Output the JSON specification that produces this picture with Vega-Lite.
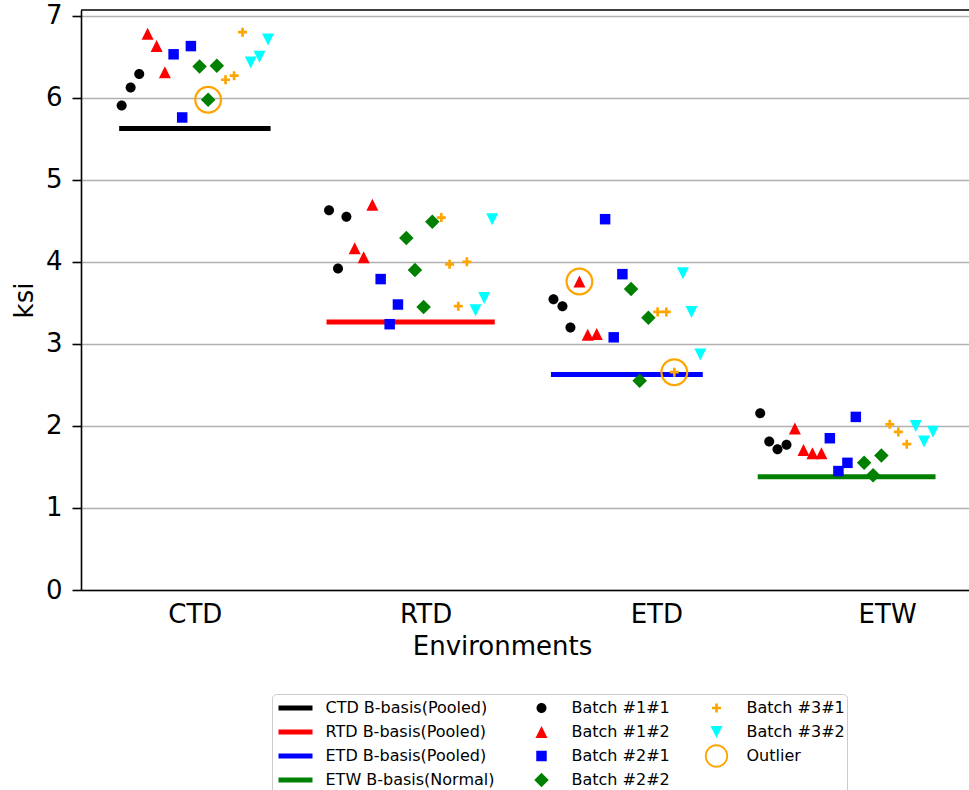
{
  "$schema": "https://vega.github.io/schema/vega-lite/v6.json",
  "width": 888,
  "height": 580,
  "autosize": "none",
  "padding": {"left": 81, "top": 10, "right": 0, "bottom": 200},
  "background": "white",
  "config": {
    "font": "DejaVu Sans",
    "view": {"stroke": null},
    "axis": {
      "labelFont": "DejaVu Sans", "titleFont": "DejaVu Sans",
      "labelColor": "black", "titleColor": "black",
      "labelFontSize": 26, "titleFontSize": 26, "titleFontWeight": "normal",
      "domainColor": "black", "domainWidth": 1.6,
      "tickColor": "black", "tickWidth": 1.6
    }
  },
  "datasets": {
    "pts": [
      {"env": "CTD", "series": "Batch #1#1", "x": -0.3173, "ksi": 5.906},
      {"env": "CTD", "series": "Batch #1#1", "x": -0.2784, "ksi": 6.126},
      {"env": "CTD", "series": "Batch #1#1", "x": -0.2411, "ksi": 6.289},
      {"env": "CTD", "series": "Batch #1#2", "x": -0.2048, "ksi": 6.78},
      {"env": "CTD", "series": "Batch #1#2", "x": -0.1658, "ksi": 6.63},
      {"env": "CTD", "series": "Batch #1#2", "x": -0.1299, "ksi": 6.31},
      {"env": "CTD", "series": "Batch #2#1", "x": -0.0922, "ksi": 6.53},
      {"env": "CTD", "series": "Batch #2#1", "x": -0.055, "ksi": 5.76},
      {"env": "CTD", "series": "Batch #2#1", "x": -0.0173, "ksi": 6.63},
      {"env": "CTD", "series": "Batch #2#2", "x": 0.0203, "ksi": 6.38},
      {"env": "CTD", "series": "Batch #2#2", "x": 0.0576, "ksi": 5.976},
      {"env": "CTD", "series": "Batch #2#2", "x": 0.0952, "ksi": 6.39},
      {"env": "CTD", "series": "Batch #3#1", "x": 0.1329, "ksi": 6.22},
      {"env": "CTD", "series": "Batch #3#1", "x": 0.1701, "ksi": 6.27},
      {"env": "CTD", "series": "Batch #3#1", "x": 0.2065, "ksi": 6.8},
      {"env": "CTD", "series": "Batch #3#2", "x": 0.2424, "ksi": 6.43},
      {"env": "CTD", "series": "Batch #3#2", "x": 0.2801, "ksi": 6.5},
      {"env": "CTD", "series": "Batch #3#2", "x": 0.3173, "ksi": 6.71},
      {"env": "RTD", "series": "Batch #1#1", "x": 0.5814, "ksi": 4.63},
      {"env": "RTD", "series": "Batch #1#1", "x": 0.6203, "ksi": 3.92},
      {"env": "RTD", "series": "Batch #1#1", "x": 0.6567, "ksi": 4.55},
      {"env": "RTD", "series": "Batch #1#2", "x": 0.6926, "ksi": 4.167},
      {"env": "RTD", "series": "Batch #1#2", "x": 0.7316, "ksi": 4.057},
      {"env": "RTD", "series": "Batch #1#2", "x": 0.7693, "ksi": 4.695},
      {"env": "RTD", "series": "Batch #2#1", "x": 0.8052, "ksi": 3.79},
      {"env": "RTD", "series": "Batch #2#1", "x": 0.8442, "ksi": 3.24},
      {"env": "RTD", "series": "Batch #2#1", "x": 0.8801, "ksi": 3.48},
      {"env": "RTD", "series": "Batch #2#2", "x": 0.9165, "ksi": 4.29},
      {"env": "RTD", "series": "Batch #2#2", "x": 0.9537, "ksi": 3.9},
      {"env": "RTD", "series": "Batch #2#2", "x": 0.9913, "ksi": 3.45},
      {"env": "RTD", "series": "Batch #2#2", "x": 1.029, "ksi": 4.49},
      {"env": "RTD", "series": "Batch #3#1", "x": 1.068, "ksi": 4.54},
      {"env": "RTD", "series": "Batch #3#1", "x": 1.1039, "ksi": 3.97},
      {"env": "RTD", "series": "Batch #3#1", "x": 1.1416, "ksi": 3.46},
      {"env": "RTD", "series": "Batch #3#1", "x": 1.1788, "ksi": 4.0},
      {"env": "RTD", "series": "Batch #3#2", "x": 1.2165, "ksi": 3.41},
      {"env": "RTD", "series": "Batch #3#2", "x": 1.2541, "ksi": 3.56},
      {"env": "RTD", "series": "Batch #3#2", "x": 1.2887, "ksi": 4.52},
      {"env": "ETD", "series": "Batch #1#1", "x": 1.5541, "ksi": 3.545},
      {"env": "ETD", "series": "Batch #1#1", "x": 1.5931, "ksi": 3.46},
      {"env": "ETD", "series": "Batch #1#1", "x": 1.6277, "ksi": 3.2},
      {"env": "ETD", "series": "Batch #1#2", "x": 1.6667, "ksi": 3.76},
      {"env": "ETD", "series": "Batch #1#2", "x": 1.7026, "ksi": 3.11},
      {"env": "ETD", "series": "Batch #1#2", "x": 1.7416, "ksi": 3.12},
      {"env": "ETD", "series": "Batch #2#1", "x": 1.7779, "ksi": 4.52},
      {"env": "ETD", "series": "Batch #2#1", "x": 1.8152, "ksi": 3.08},
      {"env": "ETD", "series": "Batch #2#1", "x": 1.8528, "ksi": 3.85},
      {"env": "ETD", "series": "Batch #2#2", "x": 1.8905, "ksi": 3.67},
      {"env": "ETD", "series": "Batch #2#2", "x": 1.9277, "ksi": 2.55},
      {"env": "ETD", "series": "Batch #2#2", "x": 1.9654, "ksi": 3.32},
      {"env": "ETD", "series": "Batch #3#1", "x": 2.0056, "ksi": 3.39},
      {"env": "ETD", "series": "Batch #3#1", "x": 2.0433, "ksi": 3.39},
      {"env": "ETD", "series": "Batch #3#1", "x": 2.0779, "ksi": 2.655},
      {"env": "ETD", "series": "Batch #3#2", "x": 2.1152, "ksi": 3.86},
      {"env": "ETD", "series": "Batch #3#2", "x": 2.1524, "ksi": 3.39},
      {"env": "ETD", "series": "Batch #3#2", "x": 2.1905, "ksi": 2.87},
      {"env": "ETW", "series": "Batch #1#1", "x": 2.4502, "ksi": 2.155},
      {"env": "ETW", "series": "Batch #1#1", "x": 2.4892, "ksi": 1.81},
      {"env": "ETW", "series": "Batch #1#1", "x": 2.5251, "ksi": 1.716},
      {"env": "ETW", "series": "Batch #1#1", "x": 2.5641, "ksi": 1.77},
      {"env": "ETW", "series": "Batch #1#2", "x": 2.6004, "ksi": 1.97},
      {"env": "ETW", "series": "Batch #1#2", "x": 2.6377, "ksi": 1.707},
      {"env": "ETW", "series": "Batch #1#2", "x": 2.6766, "ksi": 1.667},
      {"env": "ETW", "series": "Batch #1#2", "x": 2.7156, "ksi": 1.667},
      {"env": "ETW", "series": "Batch #2#1", "x": 2.7519, "ksi": 1.85},
      {"env": "ETW", "series": "Batch #2#1", "x": 2.7892, "ksi": 1.45},
      {"env": "ETW", "series": "Batch #2#1", "x": 2.8281, "ksi": 1.55},
      {"env": "ETW", "series": "Batch #2#1", "x": 2.8645, "ksi": 2.11},
      {"env": "ETW", "series": "Batch #2#2", "x": 2.9004, "ksi": 1.55},
      {"env": "ETW", "series": "Batch #2#2", "x": 2.9394, "ksi": 1.4},
      {"env": "ETW", "series": "Batch #2#2", "x": 2.9753, "ksi": 1.64},
      {"env": "ETW", "series": "Batch #3#1", "x": 3.0117, "ksi": 2.02},
      {"env": "ETW", "series": "Batch #3#1", "x": 3.0489, "ksi": 1.927},
      {"env": "ETW", "series": "Batch #3#1", "x": 3.0853, "ksi": 1.777},
      {"env": "ETW", "series": "Batch #3#2", "x": 3.1242, "ksi": 2.0},
      {"env": "ETW", "series": "Batch #3#2", "x": 3.1602, "ksi": 1.81},
      {"env": "ETW", "series": "Batch #3#2", "x": 3.1991, "ksi": 1.93}
    ],
    "basis": [
      {"env": "CTD", "series": "CTD B-basis(Pooled)", "x": -0.3173, "x2": 0.3173, "ksi": 5.626},
      {"env": "RTD", "series": "RTD B-basis(Pooled)", "x": 0.5814, "x2": 1.2887, "ksi": 3.268},
      {"env": "ETD", "series": "ETD B-basis(Pooled)", "x": 1.5541, "x2": 2.1905, "ksi": 2.626},
      {"env": "ETW", "series": "ETW B-basis(Normal)", "x": 2.4502, "x2": 3.1991, "ksi": 1.382}
    ],
    "outliers": [
      {"env": "CTD", "series": "Outlier", "x": 0.0576, "ksi": 5.976},
      {"env": "ETD", "series": "Outlier", "x": 1.6667, "ksi": 3.76},
      {"env": "ETD", "series": "Outlier", "x": 2.0779, "ksi": 2.655}
    ]
  },
  "layer": [
    {
      "data": {"name": "basis"},
      "mark": {"type": "rule", "strokeWidth": 5, "strokeCap": "square"},
      "encoding": {
        "x": {
          "field": "x", "type": "quantitative",
          "scale": {"domain": [-0.4935, 3.355], "nice": false, "zero": false},
          "axis": {
            "title": "Environments", "values": [0, 1, 2, 3],
            "labelExpr": "['CTD','RTD','ETD','ETW'][datum.value]",
            "grid": false, "ticks": false, "tickSize": 0,
            "labelPadding": 11, "titlePadding": 6, "titleX": 421,
            "labelFlush": false, "labelOverlap": false
          }
        },
        "x2": {"field": "x2"},
        "y": {
          "field": "ksi", "type": "quantitative",
          "scale": {"domain": [0, 7.07], "nice": false, "zero": true},
          "axis": {
            "title": "ksi", "values": [0, 1, 2, 3, 4, 5, 6, 7], "format": "d",
            "grid": true, "gridColor": "#b0b0b0", "gridWidth": 1.6,
            "tickSize": 9, "labelPadding": 10, "titlePadding": 8,
            "labelFlush": false, "labelOverlap": false
          }
        },
        "color": {
          "field": "series", "type": "nominal",
          "scale": {
            "domain": ["CTD B-basis(Pooled)", "RTD B-basis(Pooled)", "ETD B-basis(Pooled)", "ETW B-basis(Normal)", "Batch #1#1", "Batch #1#2", "Batch #2#1", "Batch #2#2", "Batch #3#1", "Batch #3#2", "Outlier"],
            "range": ["#000000", "#FF0000", "#0000FF", "#008000", "#000000", "#FF0000", "#0000FF", "#008000", "#FFA500", "#00FFFF", "#FFA500"]
          },
          "legend": {
            "title": null, "orient": "none", "legendX": 191, "legendY": 684,
            "columns": 3, "direction": "vertical", "gridAlign": "each",
            "symbolSize": 1444, "symbolStrokeWidth": 0, "symbolOffset": 2.5,
            "labelFont": "DejaVu Sans", "labelFontSize": 16, "labelColor": "black",
            "labelLimit": 400, "labelOffset": 11,
            "columnPadding": 25, "rowPadding": 0, "clipHeight": 24,
            "padding": 2, "strokeColor": "#cccccc", "fillColor": "white", "cornerRadius": 4,
            "encode": {
              "symbols": {
                "update": {
                  "shape": {"signal": "scale('shape', datum.value)"},
                  "fill": {"signal": "scale('color', datum.value)"},
                  "stroke": {"value": "transparent"},
                  "opacity": {"value": 1},
                  "size": {"signal": "datum.value === 'Outlier' ? 1000 : 1444"}
                }
              }
            }
          }
        }
      }
    },
    {
      "data": {"name": "pts"},
      "mark": {"type": "point", "filled": true, "size": 1444, "opacity": 1, "strokeWidth": 0},
      "encoding": {
        "x": {"field": "x", "type": "quantitative"},
        "y": {"field": "ksi", "type": "quantitative"},
        "color": {"field": "series", "type": "nominal"},
        "shape": {
          "field": "series", "type": "nominal", "legend": null,
          "scale": {
            "domain": ["CTD B-basis(Pooled)", "RTD B-basis(Pooled)", "ETD B-basis(Pooled)", "ETW B-basis(Normal)", "Batch #1#1", "Batch #1#2", "Batch #2#1", "Batch #2#2", "Batch #3#1", "Batch #3#2", "Outlier"],
            "range": [
              "M-0.895,-0.13H0.895V0.13H-0.895Z",
              "M-0.895,-0.13H0.895V0.13H-0.895Z",
              "M-0.895,-0.13H0.895V0.13H-0.895Z",
              "M-0.895,-0.13H0.895V0.13H-0.895Z",
              "M-0.263,0A0.263,0.263,0,1,1,0.263,0A0.263,0.263,0,1,1,-0.263,0Z",
              "M0,-0.316L0.316,0.316H-0.316Z",
              "M-0.276,-0.276H0.276V0.276H-0.276Z",
              "M-0.382,0L0,-0.382L0.382,0L0,0.382Z",
              "M-0.237,-0.071H-0.071V-0.237H0.071V-0.071H0.237V0.071H0.071V0.237H-0.071V0.071H-0.237Z",
              "M0,0.316L0.316,-0.316H-0.316Z",
              "M-0.737,0A0.737,0.737,0,1,1,0.737,0A0.737,0.737,0,1,1,-0.737,0Z M-0.62,0A0.62,0.62,0,1,0,0.62,0A0.62,0.62,0,1,0,-0.62,0Z"
            ]
          }
        }
      }
    },
    {
      "data": {"name": "outliers"},
      "mark": {
        "type": "point", "filled": true, "size": 1444, "opacity": 1, "strokeWidth": 0, "color": "#FFA500",
        "shape": "M-0.737,0A0.737,0.737,0,1,1,0.737,0A0.737,0.737,0,1,1,-0.737,0Z M-0.62,0A0.62,0.62,0,1,0,0.62,0A0.62,0.62,0,1,0,-0.62,0Z"
      },
      "encoding": {
        "x": {"field": "x", "type": "quantitative"},
        "y": {"field": "ksi", "type": "quantitative"}
      }
    },
    {
      "data": {"values": [{}]},
      "mark": {"type": "rule", "color": "black", "strokeWidth": 1.6},
      "encoding": {"y": {"datum": 7.07, "type": "quantitative"}}
    }
  ]
}
